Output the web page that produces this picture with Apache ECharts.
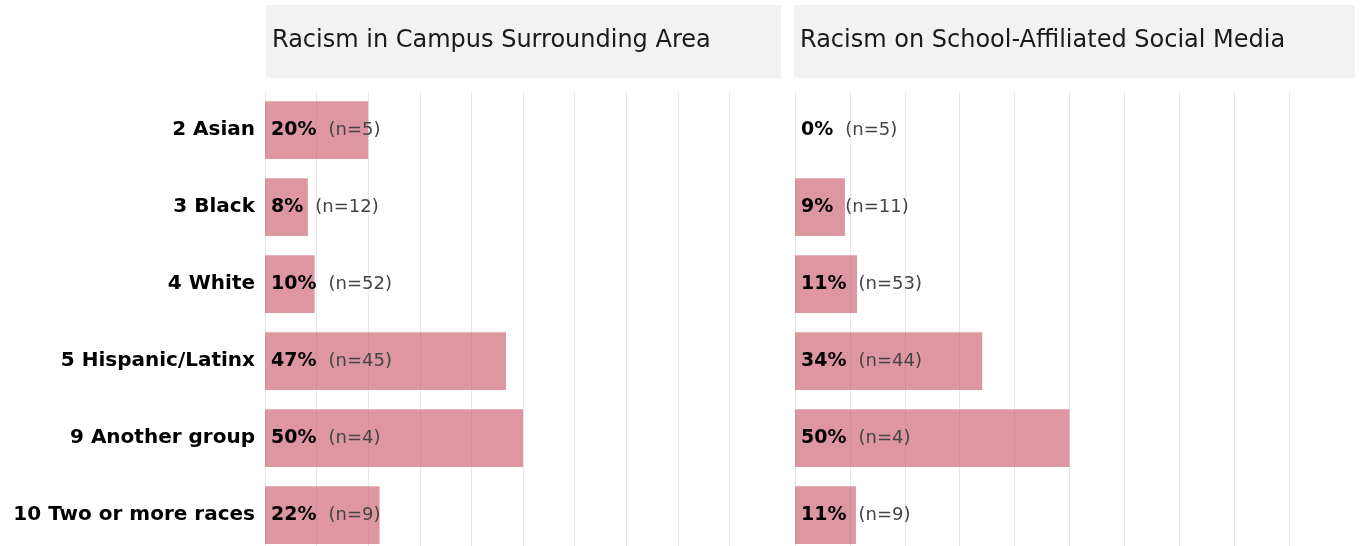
<!DOCTYPE html>
<html>
<head>
<meta charset="utf-8">
<script src="https://cdn.jsdelivr.net/npm/echarts@6/dist/echarts.min.js"></script>
<style>
  html, body { margin: 0; padding: 0; background: #fff; }
  #chart { width: 1365px; height: 546px; }
</style>
</head>
<body>
<div id="chart"></div>
<script>
// 类别（自上而下）
const categories = ['2 Asian', '3 Black', '4 White', '5 Hispanic/Latinx', '9 Another group', '10 Two or more races']

// 左图：校园周边区域
const campusPct = [20, 8.3, 9.6, 46.7, 50, 22.2]
const campusN = [5, 12, 52, 45, 4, 9]

// 右图：学校社交媒体
const socialPct = [0, 9.1, 11.3, 34.1, 50, 11.1]
const socialN = [5, 11, 53, 44, 4, 9]

const panelTitles = ['Racism in Campus Surrounding Area', 'Racism on School-Affiliated Social Media']

const FONT = 'DejaVu Sans'
const barColor = 'rgba(200, 80, 96, 0.6)'

const chart = echarts.init(document.getElementById('chart'))

const makeLabel = (nArr) => ({
  show: true,
  position: 'insideLeft',
  distance: 6,
  formatter: (p) => `{p|${Math.round(p.value)}%}{n|(n=${nArr[p.dataIndex]})}`,
  rich: {
    p: { fontFamily: FONT, fontWeight: 'bold', fontSize: 19, color: '#000' },
    n: { fontFamily: FONT, fontSize: 18, color: '#444', padding: [0, 0, 0, 12] }
  }
})

const xAxisBase = {
  type: 'value',
  min: 0,
  max: 100,
  interval: 10,
  axisLine: { show: false },
  axisTick: { show: false },
  axisLabel: { show: false },
  splitLine: { show: true, showMaxLine: false, lineStyle: { color: '#e8e8e8', width: 1 } }
}

const option = {
  animation: false,
  backgroundColor: '#fff',
  grid: [
    { left: 265, top: 91.5, width: 516, height: 462, outerBoundsMode: 'none' },
    { left: 795, top: 91.5, width: 549, height: 462, outerBoundsMode: 'none' }
  ],
  xAxis: [
    { ...xAxisBase, gridIndex: 0 },
    { ...xAxisBase, gridIndex: 1 }
  ],
  yAxis: [
    {
      type: 'category',
      gridIndex: 0,
      data: categories,
      inverse: true,
      axisLine: { show: false },
      axisTick: { show: false },
      axisLabel: { fontFamily: FONT, fontWeight: 'bold', fontSize: 20, color: '#000', margin: 10 }
    },
    {
      type: 'category',
      gridIndex: 1,
      data: categories,
      inverse: true,
      axisLine: { show: false },
      axisTick: { show: false },
      axisLabel: { show: false }
    }
  ],
  graphic: [
    { type: 'rect', left: 266, top: 5, shape: { width: 515, height: 73 }, style: { fill: '#f2f2f2' } },
    { type: 'rect', left: 794, top: 5, shape: { width: 561, height: 73 }, style: { fill: '#f2f2f2' } },
    {
      type: 'text', left: 272, top: 29,
      style: { text: panelTitles[0], font: `24px "${FONT}"`, fill: '#1a1a1a' }
    },
    {
      type: 'text', left: 800, top: 29,
      style: { text: panelTitles[1], font: `24px "${FONT}"`, fill: '#1a1a1a' }
    }
  ],
  series: [
    {
      type: 'bar',
      xAxisIndex: 0,
      yAxisIndex: 0,
      data: campusPct,
      barCategoryGap: '25%',
      itemStyle: { color: barColor },
      label: makeLabel(campusN)
    },
    {
      type: 'bar',
      xAxisIndex: 1,
      yAxisIndex: 1,
      data: socialPct,
      barCategoryGap: '25%',
      itemStyle: { color: barColor },
      label: makeLabel(socialN)
    }
  ]
}

chart.setOption(option)
window.addEventListener('resize', () => chart.resize())
</script>
</body>
</html>
